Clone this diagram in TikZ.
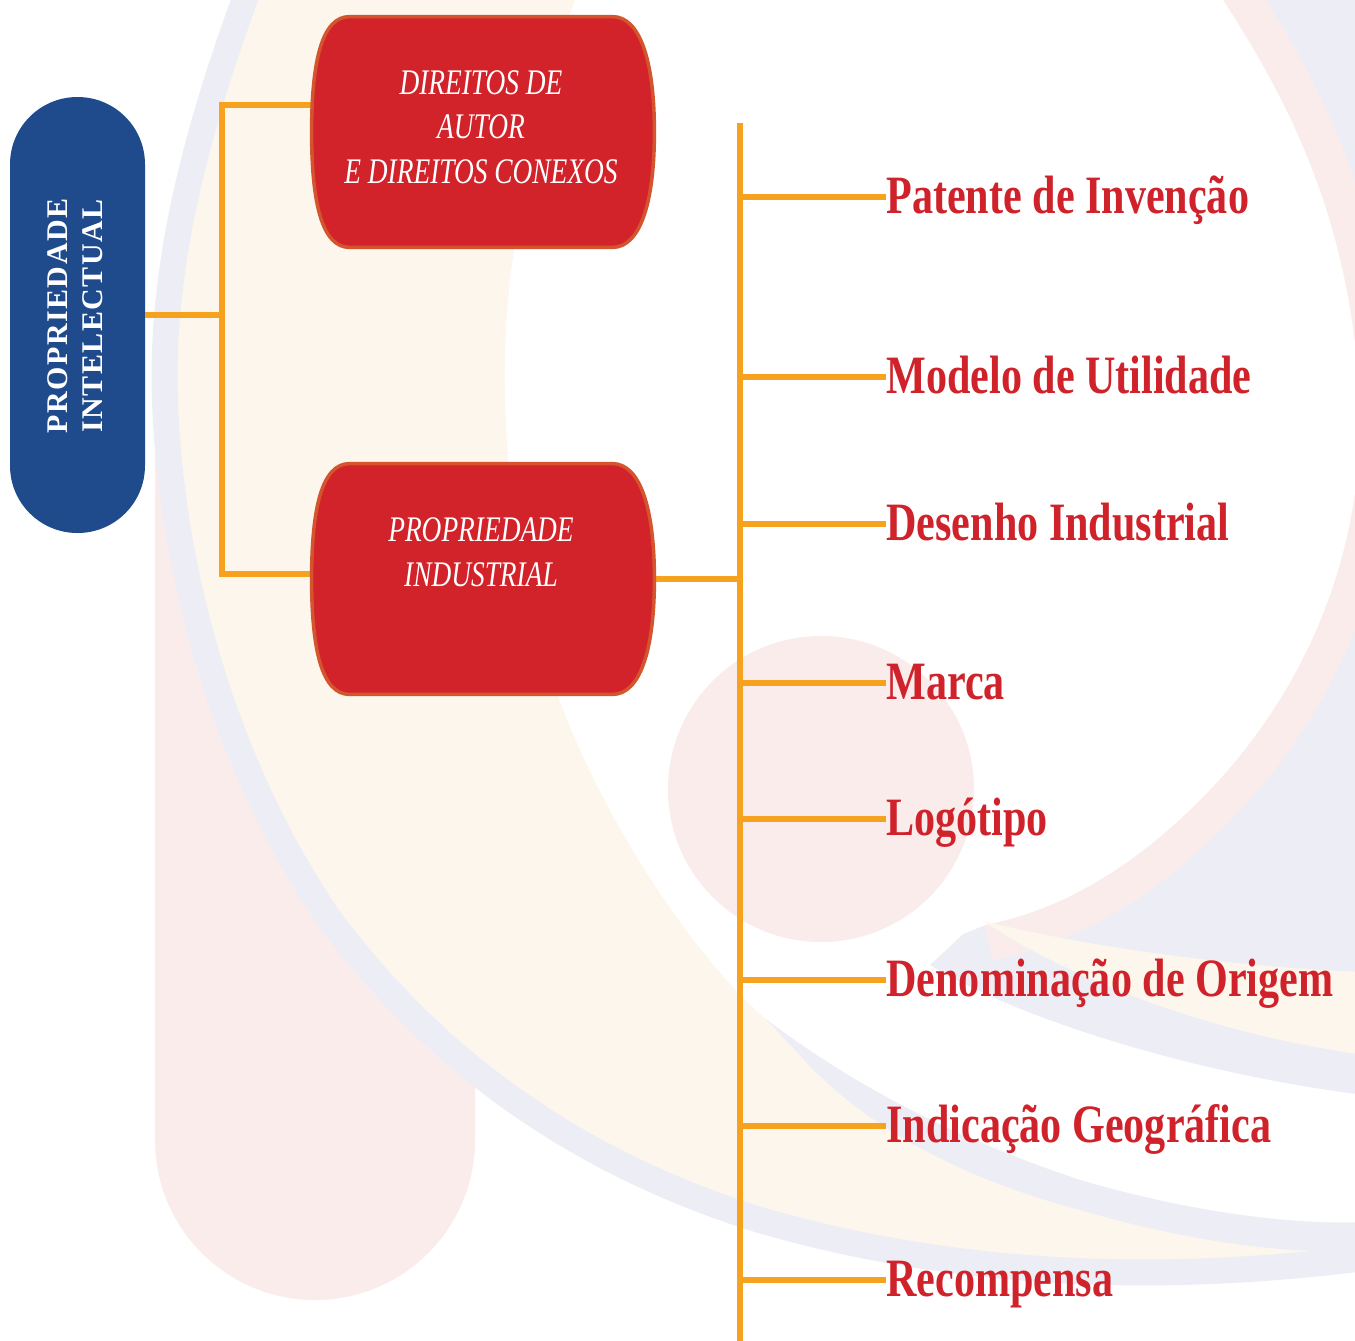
\documentclass[tikz,border=0pt]{standalone}
\usepackage{fontspec}
\setmainfont{Liberation Serif}
\newfontfamily\itemfont[FakeStretch=0.78]{Liberation Serif}
\newfontfamily\boxfont[FakeStretch=0.76]{Liberation Serif}
\newfontfamily\pillfont[LetterSpace=5]{Liberation Serif}
\usetikzlibrary{calc}
\definecolor{pblue}{RGB}{31,74,140}
\definecolor{pred}{RGB}{210,34,42}
\definecolor{predline}{RGB}{212,84,45}
\definecolor{porange}{RGB}{247,162,30}
\definecolor{ptext}{RGB}{208,34,43}
\definecolor{bgcream}{RGB}{253,246,236}
\definecolor{bggrey}{RGB}{237,238,245}
\definecolor{bgpink}{RGB}{251,236,236}
\begin{document}
\begin{tikzpicture}[x=0.5pt,y=-0.5pt,
  conn/.style={draw=porange,line width=2.75pt},
  itemlabel/.style={anchor=west,inner sep=0pt,text=ptext,font=\itemfont\bfseries\fontsize{27}{30}\selectfont,text height=20pt,text depth=4pt},
  boxshape/.style={minimum width=171pt,minimum height=115pt,inner sep=0pt},
  redshape/.style={fill=pred,draw=predline,line width=1.75pt},
  boxtext/.style={text=white,align=center,inner sep=0pt,font=\boxfont\itshape\fontsize{18}{22.25}\selectfont},
  pill/.style={fill=pblue,rounded corners=33.7pt,minimum width=67.5pt,minimum height=218pt,inner sep=0pt},
  pilltext/.style={text=white,rotate=90,align=center,inner sep=0pt,font=\pillfont\bfseries\fontsize{15}{17.5}\selectfont}]
\useasboundingbox (0,0) rectangle (1355,1340);
\fill[white] (0,0) rectangle (1355,1340);
% ---------- background ----------
\begin{scope}
\clip (0,0) rectangle (1355,1340);
% pink pill
\fill[bgpink] (155,300) -- (475,300) -- (475,1140) arc[start angle=0,end angle=180,radius=160] -- cycle;
% grey region on the right
\fill[bggrey] (1235,-15) -- (1365,-15) -- (1365,1095) .. controls (1200,1075) and (1020,1020) .. (930,965) -- (1000,900) -- cycle;
% pink rim
\draw[bgpink,line width=36pt] (1213,-15) .. controls (1290,100) and (1350,220) .. (1360,400) .. controls (1365,560) and (1300,700) .. (1200,800) .. controls (1130,870) and (1060,910) .. (985,925);
% white interior
\fill[white] (1213,-15) .. controls (1290,100) and (1350,220) .. (1360,400) .. controls (1365,560) and (1300,700) .. (1200,800) .. controls (1130,870) and (1060,910) .. (985,925) -- (900,960) -- (700,900) -- (560,600) -- (560,-15) -- cycle;
% pink circle
\fill[bgpink] (821,789) circle[radius=153];
% cream swoosh upper right
\fill[bgcream] (983,921) .. controls (1100,950) and (1250,968) .. (1365,972) -- (1365,1055) .. controls (1220,1035) and (1080,985) .. cycle;
% cream crescent
\fill[bgcream] (250,-15) .. controls (200,120) and (160,260) .. (165,400) .. controls (170,560) and (220,760) .. (330,920) .. controls (450,1080) and (600,1170) .. (760,1220) .. controls (950,1275) and (1150,1285) .. (1365,1258) -- (1365,1222) .. controls (1300,1225) and (1200,1215) .. (1080,1180) .. controls (960,1140) and (860,1090) .. (767,1020) .. controls (690,955) and (580,790) .. (540,640) .. controls (500,500) and (495,330) .. (520,220) .. controls (540,120) and (560,40) .. (580,-15) -- cycle;
% grey outer band
\draw[bggrey,line width=13pt] (250,-15) .. controls (200,120) and (160,260) .. (165,400) .. controls (170,560) and (220,760) .. (330,920) .. controls (450,1080) and (600,1170) .. (760,1220) .. controls (950,1275) and (1150,1285) .. (1365,1258);
% grey inner swoosh
\fill[bggrey] (767,1020) .. controls (860,1090) and (960,1140) .. (1080,1180) .. controls (1200,1215) and (1300,1225) .. (1365,1222) -- (1365,1250) .. controls (1300,1255) and (1200,1245) .. (1080,1210) .. controls (960,1178) and (860,1125) .. (795,1050) -- cycle;
\end{scope}
% ---------- nodes ----------
\node[pill] (pi) at (77.5,315) {};
\node[boxshape] (b1) at (483,132) {};
\node[boxshape] (b2) at (483,579) {};
\coordinate (j1) at (222,105);
\coordinate (j2) at (222,574);
\coordinate (ttop) at (740,123);
\coordinate (tbot) at (740,1345);
% ---------- connectors ----------
\draw[conn] (pi.east) -- (pi.east -| j1);
\draw[conn] (j1 -| b1.west) -- (j1) -- (j2) -- (j2 -| b2.west);
\draw[conn] (b2.east) -- (b2.east -| ttop);
\draw[conn] (ttop) -- (tbot);
\foreach \n/\y/\t in {i1/197/Patente de Invenção, i2/377/Modelo de Utilidade, i3/524/Desenho Industrial, i4/683/Marca, i5/819/Logótipo, i6/980/Denominação de Origem, i7/1126/Indicação Geográfica, i8/1280/Recompensa}{
  \node[itemlabel] (\n) at (886,\y) {\t};
  \draw[conn] (\n.west -| ttop) -- (\n.west);
}
% ---------- red boxes ----------
\foreach \b in {b1,b2}{
  \draw[redshape] ($(\b.north west)+(38,0)$) -- ($(\b.north east)+(-42,0)$) .. controls +(28,0) and +(0,-70) .. (\b.east) .. controls +(0,70) and +(28,0) .. ($(\b.south east)+(-42,0)$) -- ($(\b.south west)+(38,0)$) .. controls +(-28,0) and +(0,70) .. (\b.west) .. controls +(0,-70) and +(-28,0) .. cycle;
}
% ---------- texts ----------
\node[pilltext] (pit) at (75,316) {PROPRIEDADE\\INTELECTUAL};
\node[boxtext] (t1) at (481,127) {DIREITOS DE\\AUTOR\\E DIREITOS CONEXOS};
\node[boxtext] (t2) at (481,552) {PROPRIEDADE\\INDUSTRIAL};
\end{tikzpicture}
\end{document}
